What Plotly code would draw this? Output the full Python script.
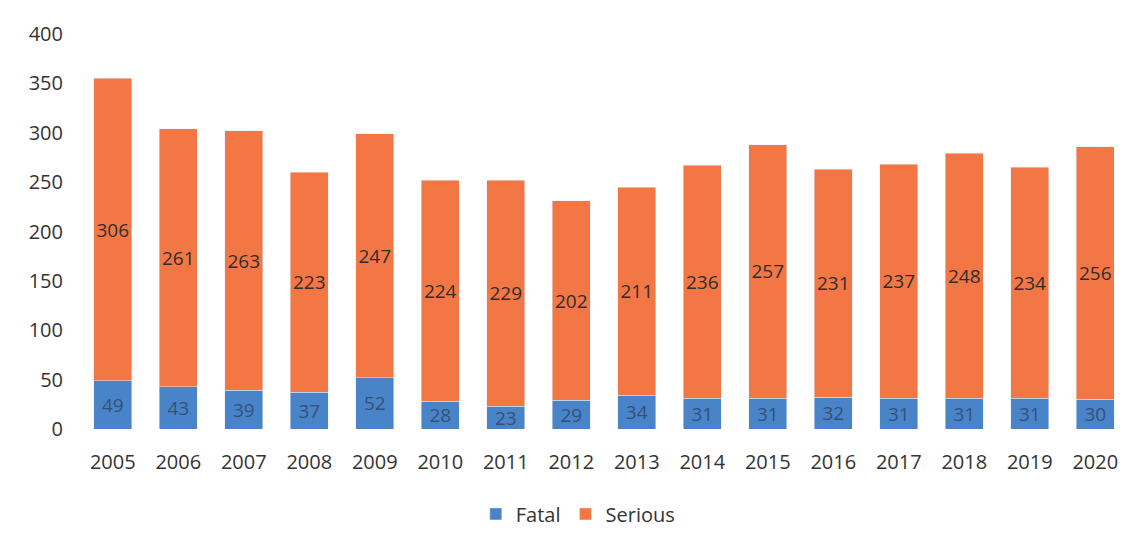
import plotly.graph_objects as go

years = [str(y) for y in range(2005, 2021)]
fatal = [49, 43, 39, 37, 52, 28, 23, 29, 34, 31, 31, 32, 31, 31, 31, 30]
serious = [306, 261, 263, 223, 247, 224, 229, 202, 211, 236, 257, 231, 237, 248, 234, 256]
y_ticks = [0, 50, 100, 150, 200, 250, 300, 350, 400]

fig = go.Figure()
fig.add_trace(go.Bar(
    x=years, y=fatal, name="Fatal", marker_color="#4a84c8",
    text=fatal, textposition="inside", insidetextanchor="middle", textangle=0,
    constraintext="none",
    textfont=dict(color="#34507a", size=19, family="Open Sans"),
))
fig.add_trace(go.Bar(
    x=years, y=serious, name="Serious", marker_color="#f37744",
    text=serious, textposition="inside", insidetextanchor="middle", textangle=0,
    constraintext="none",
    textfont=dict(color="#2e2e2e", size=19, family="Open Sans"),
))

fig.update_layout(
    barmode="stack",
    bargap=0.42,
    width=1146, height=551,
    margin=dict(l=72, r=26, t=17, b=130),
    paper_bgcolor="white", plot_bgcolor="white",
    font=dict(family="Open Sans", size=20, color="#333333"),
    uniformtext=dict(minsize=12, mode="show"),
    xaxis=dict(showgrid=False, showline=False, ticks="", tickfont=dict(size=20),
               ticklabelstandoff=19),
    yaxis=dict(range=[0, 400], tickvals=y_ticks, showgrid=False, zeroline=False,
               showline=False, ticks="", tickfont=dict(size=20), ticklabelstandoff=16,
               ticklabeloverflow="allow"),
    legend=dict(orientation="h", x=0.475, xanchor="center", y=-0.215, yanchor="middle",
                font=dict(size=20), traceorder="normal", itemwidth=30),
)

fig.write_html("out.html")
